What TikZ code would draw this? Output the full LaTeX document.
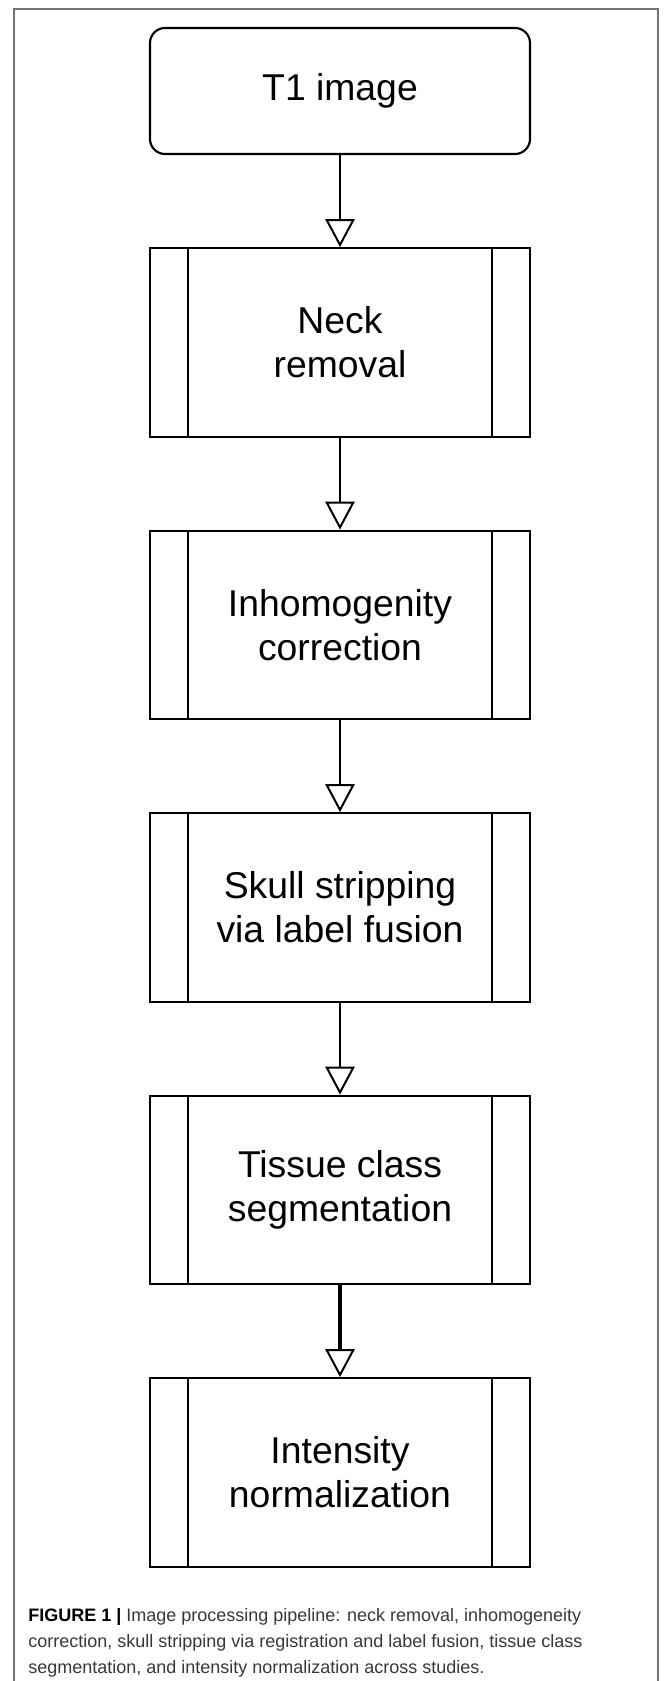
\documentclass[tikz,border=0pt]{standalone}
\usepackage{fontspec}
\setmainfont{Liberation Sans}
\usetikzlibrary{arrows.meta}
\begin{document}
\begin{tikzpicture}[x=0.75pt,y=-0.75pt,
  box/.style={draw, line width=1.6pt, minimum width=285pt, align=center,
    font=\fontsize{28}{33}\selectfont, inner sep=0pt},
  startbox/.style={box, rounded corners=11.25pt, minimum height=94.5pt},
  proc/.style={box, minimum height=141.5pt,
    path picture={
      \draw[line width=1.6pt] ([xshift=28.5pt]path picture bounding box.north west) -- ([xshift=28.5pt]path picture bounding box.south west);
      \draw[line width=1.6pt] ([xshift=-28.5pt]path picture bounding box.north east) -- ([xshift=-28.5pt]path picture bounding box.south east);}},
  flow/.style={line width=1.5pt, -{Triangle[open, length=21pt, width=22pt, line width=1.5pt]}},
  frame/.style={draw=black!55, line width=0.8pt},
  captext/.style={anchor=base west, align=left, inner sep=0pt,
    font=\fontsize{13.5}{19.2}\selectfont, text=black!78}]
\clip (0,0) rectangle (670,1681);
\fill[white] (0,0) rectangle (670,1681);
\draw[frame] (14,9) rectangle (658,1720);

\node[startbox] (t1) at (340,91) {T1 image};
\node[proc] (neck) at (340,342.5) {Neck\\removal};
\node[proc] (inh) at (340,625) {Inhomogenity\\correction};
\node[proc] (skull) at (340,907.5) {Skull stripping\\via label fusion};
\node[proc] (tissue) at (340,1190) {Tissue class\\segmentation};
\node[proc] (inten) at (340,1472.5) {Intensity\\normalization};

\draw[flow] (t1.south) -- (neck.north);
\draw[flow] (neck.south) -- (inh.north);
\draw[flow] (inh.south) -- (skull.north);
\draw[flow] (skull.south) -- (tissue.north);
\draw[flow, line width=2.3pt] (tissue.south) -- (inten.north);

\node[captext] (cap) at (28,1673) {{\bfseries\color{black}FIGURE 1 |} Image processing pipeline: neck removal, inhomogeneity\\
correction, skull stripping via registration and label fusion, tissue class\\
segmentation, and intensity normalization across studies.};
\end{tikzpicture}
\end{document}
